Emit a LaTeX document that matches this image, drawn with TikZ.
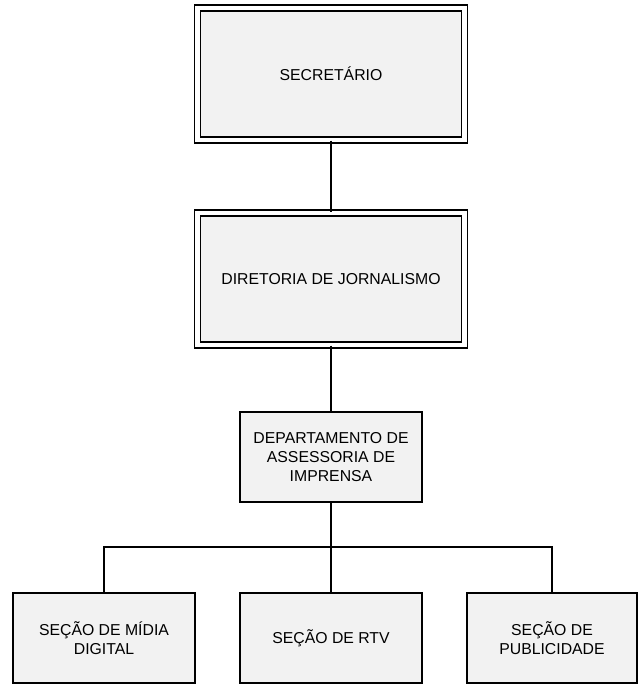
\documentclass[tikz,border=0pt]{standalone}
\usepackage{fontspec}
\setmainfont{Liberation Sans}
\usepackage{tikz}
\definecolor{boxgray}{RGB}{242,242,242}

\begin{document}
\begin{tikzpicture}[x=1pt,y=-1pt,
	unit/.style={draw=black,fill=boxgray,line width=1.3pt,align=center,
	inner sep=2pt,font=\fontsize{15.8}{18.8}\selectfont},
	chief/.style={unit,double=white,double distance=4.7pt,minimum width=267pt,minimum height=132pt},
	sub/.style={unit,minimum width=182pt,minimum height=90pt},
	link/.style={line width=1.7pt}]
\useasboundingbox (0,0) rectangle (639,684);
\node [chief] (sec) at (331,74) {SECRETÁRIO};
\node [chief] (dir) at (331,279) {DIRETORIA DE JORNALISMO};
\node [sub] (dep) at (331,457) {DEPARTAMENTO DE\\ASSESSORIA DE\\IMPRENSA};
\node [sub] (midia) at (104,638) {SEÇÃO DE MÍDIA\\DIGITAL};
\node [sub] (rtv) at (331,638) {SEÇÃO DE RTV};
\node [sub, minimum width=170pt] (publi) at (552,638) {SEÇÃO DE\\PUBLICIDADE};
\coordinate (bar) at (331,547);
%	connectors
\draw[link] (sec) -- (dir);
\draw[link] (dir) -- (dep);
\draw[link] (dep) -- (rtv);
\draw[link] (midia.north) |- (bar) -| (publi.north);
\end{tikzpicture}
\end{document}
